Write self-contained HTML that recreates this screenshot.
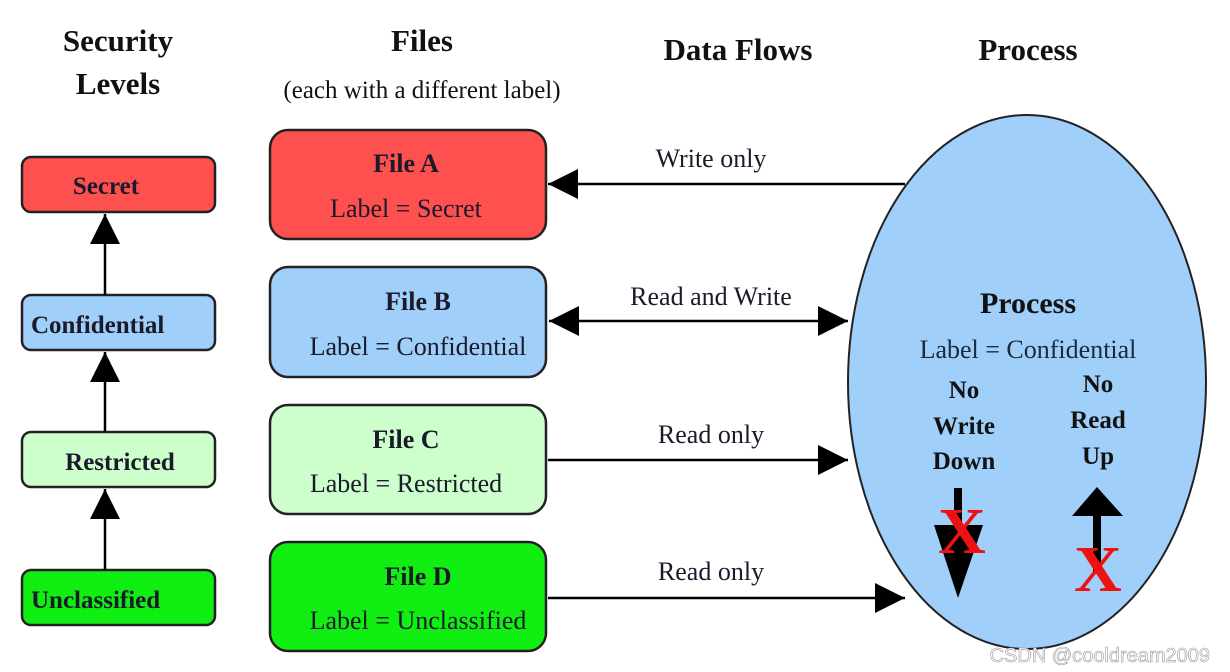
<!DOCTYPE html>
<html><head><meta charset="utf-8"><style>
html,body{margin:0;padding:0;background:#fff;}
svg{display:block;}
svg text{font-family:"Liberation Serif","DejaVu Serif","Times New Roman",serif;}
svg text.wm{font-family:"Liberation Sans","DejaVu Sans",sans-serif;}
</style></head><body>
<svg width="1230" height="672" viewBox="0 0 1230 672" xmlns="http://www.w3.org/2000/svg" font-family="Liberation Serif, serif">
<defs>
<marker id="ah" viewBox="0 0 10 10" refX="10" refY="5" markerWidth="30" markerHeight="30" markerUnits="userSpaceOnUse" orient="auto-start-reverse"><path d="M0,0 L10,5 L0,10 z" fill="#000"/></marker>
</defs>
<g font-weight="bold" font-size="31" text-anchor="middle" fill="#111">
<text x="118" y="51">Security</text>
<text x="118" y="94">Levels</text>
<text x="422" y="51">Files</text>
<text x="738" y="60">Data Flows</text>
<text x="1028" y="60">Process</text>
</g>
<text x="422" y="98" font-size="25" text-anchor="middle" fill="#111">(each with a different label)</text>

<g stroke="#222" stroke-width="2.5">
<rect x="22" y="157" width="193" height="55" rx="9" fill="#ff5050"/>
<rect x="22" y="295" width="193" height="55" rx="9" fill="#a0cffa"/>
<rect x="22" y="432" width="193" height="55" rx="9" fill="#ccffcc"/>
<rect x="22" y="570" width="193" height="55" rx="9" fill="#11ee11"/>
</g>
<g stroke="#000" stroke-width="2.5">
<line x1="105" y1="295" x2="105" y2="214" marker-end="url(#ah)"/>
<line x1="105" y1="432" x2="105" y2="352" marker-end="url(#ah)"/>
<line x1="105" y1="570" x2="105" y2="489" marker-end="url(#ah)"/>
</g>
<g font-weight="bold" font-size="25" fill="#1a1a2a">
<text x="106" y="194" text-anchor="middle">Secret</text>
<text x="31" y="333">Confidential</text>
<text x="120" y="470" text-anchor="middle">Restricted</text>
<text x="31" y="608">Unclassified</text>
</g>

<g stroke="#222" stroke-width="2.5">
<rect x="270" y="130" width="276" height="109" rx="18" fill="#ff5050"/>
<rect x="270" y="267" width="276" height="110" rx="18" fill="#a0cffa"/>
<rect x="270" y="405" width="276" height="109" rx="18" fill="#ccffcc"/>
<rect x="270" y="542" width="276" height="109" rx="18" fill="#11ee11"/>
</g>
<g font-size="26" text-anchor="middle" fill="#1a1a2a">
<text x="406" y="172" font-weight="bold">File A</text>
<text x="406" y="217">Label = Secret</text>
<text x="418" y="310" font-weight="bold">File B</text>
<text x="418" y="355">Label = Confidential</text>
<text x="406" y="448" font-weight="bold">File C</text>
<text x="406" y="492">Label = Restricted</text>
<text x="418" y="585" font-weight="bold">File D</text>
<text x="418" y="629">Label = Unclassified</text>
</g>

<ellipse cx="1027" cy="382" rx="179" ry="267" fill="#a0cffa" stroke="#222" stroke-width="2"/>

<g stroke="#000" stroke-width="2.5">
<line x1="905" y1="184" x2="548" y2="184" marker-end="url(#ah)"/>
<line x1="549" y1="321" x2="848" y2="321" marker-start="url(#ah)" marker-end="url(#ah)"/>
<line x1="548" y1="460" x2="848" y2="460" marker-end="url(#ah)"/>
<line x1="548" y1="598" x2="905" y2="598" marker-end="url(#ah)"/>
</g>
<g font-size="26" text-anchor="middle" fill="#1a1a2a">
<text x="711" y="167">Write only</text>
<text x="711" y="305">Read and Write</text>
<text x="711" y="443">Read only</text>
<text x="711" y="580">Read only</text>
</g>

<text x="1028" y="313" font-size="30" font-weight="bold" text-anchor="middle" fill="#111">Process</text>
<text x="1028" y="358" font-size="26" text-anchor="middle" fill="#1a2a3a">Label = Confidential</text>
<g font-size="25" font-weight="bold" text-anchor="middle" fill="#111">
<text x="964" y="398">No</text>
<text x="964" y="434">Write</text>
<text x="964" y="469">Down</text>
<text x="1098" y="392">No</text>
<text x="1098" y="428">Read</text>
<text x="1098" y="464">Up</text>
</g>
<rect x="954" y="488" width="8" height="40" fill="#000"/>
<path d="M934,525 L983,525 L958,598 z" fill="#000"/>
<path d="M1072,516 L1123,516 L1097,487 z" fill="#000"/>
<rect x="1093" y="514" width="8" height="58" fill="#000"/>
<g font-size="66" font-weight="bold" fill="#ee1111" text-anchor="middle">
<text x="962" y="553">X</text>
<text x="1098" y="591">X</text>
</g>

<text class="wm" x="1210" y="662" font-size="20" text-anchor="end" fill="#ffffff" stroke="#999" stroke-width="0.6">CSDN @cooldream2009</text>
</svg>
</body></html>
